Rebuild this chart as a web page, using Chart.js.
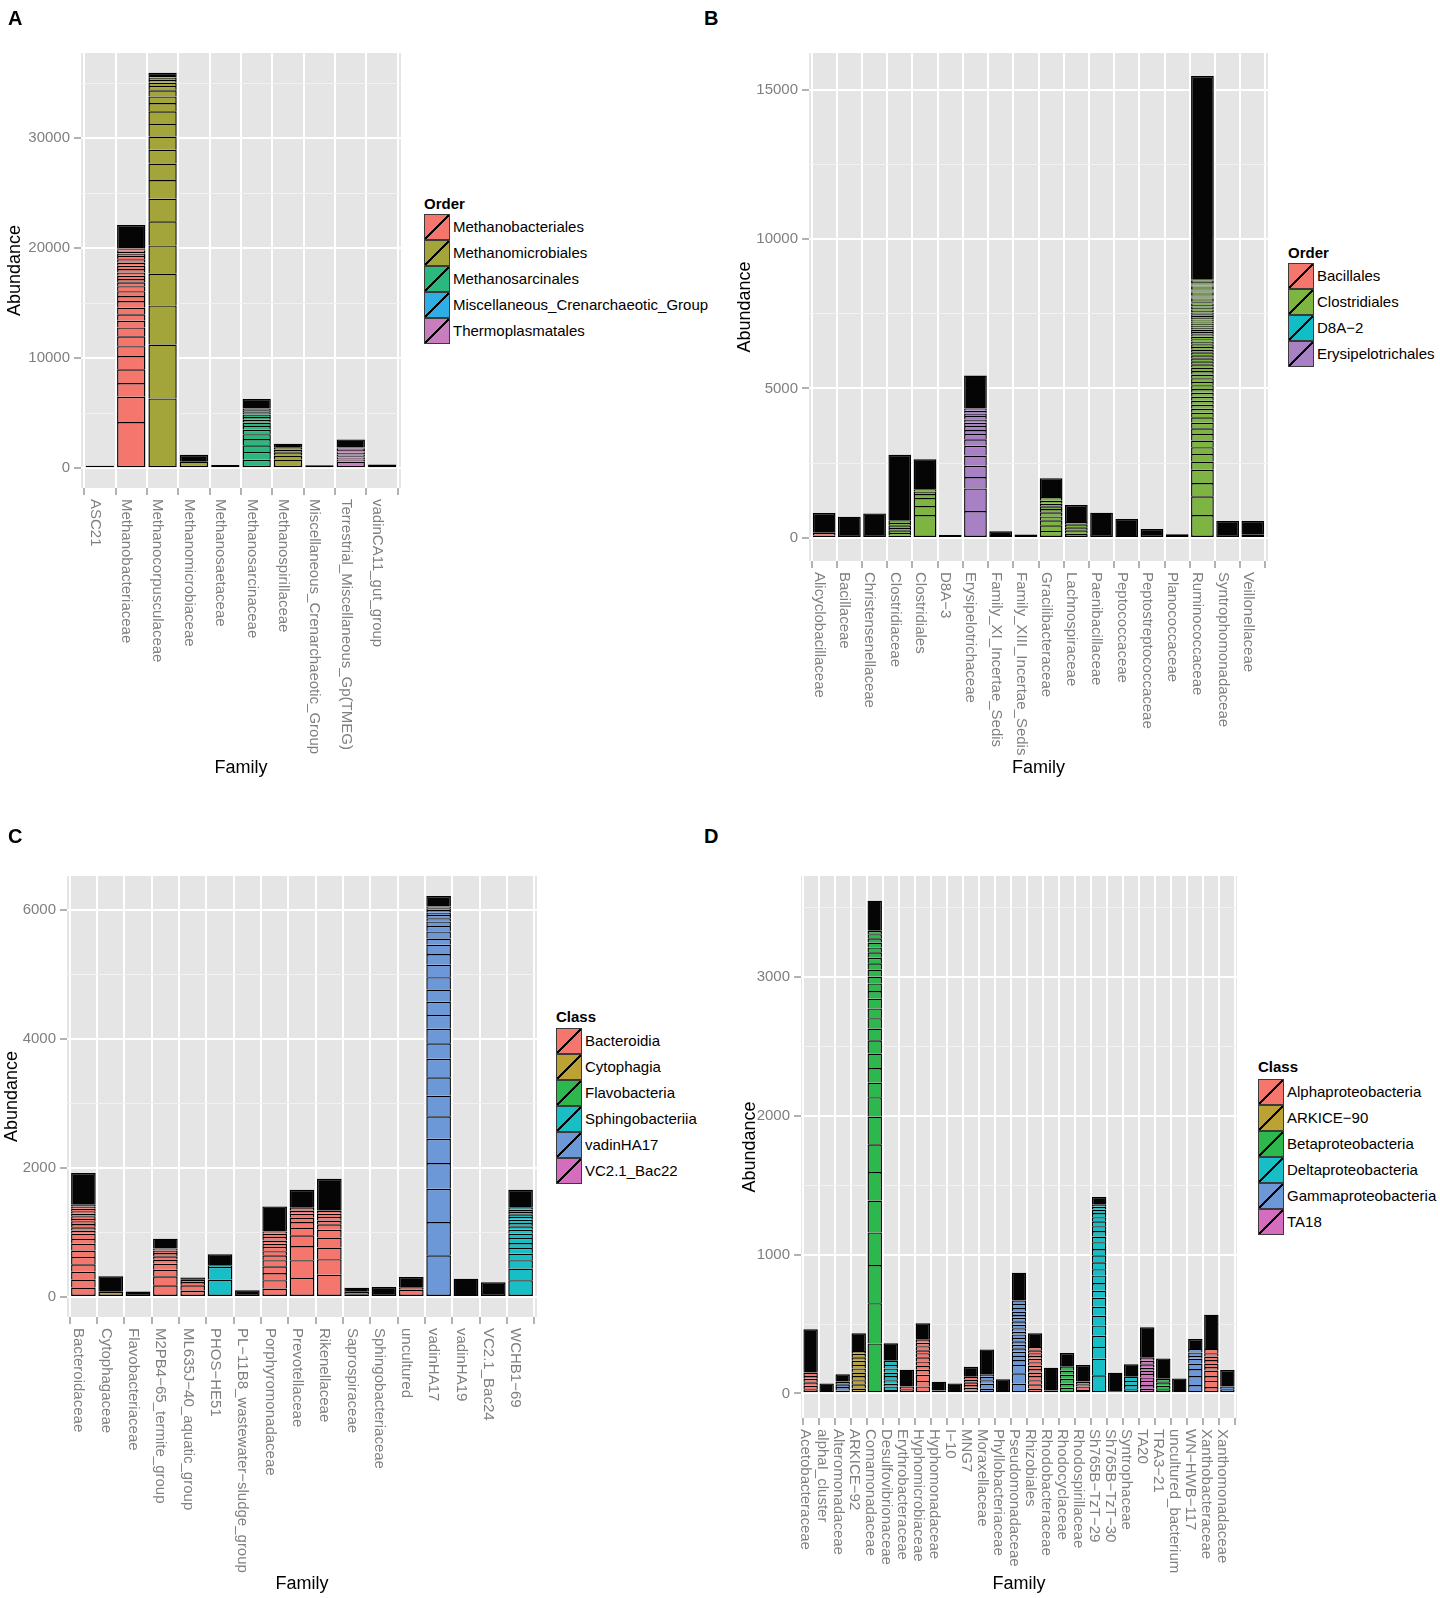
<!DOCTYPE html>
<html lang="en">

<head>
    <meta charset="UTF-8" />
    <title>Abundance by family</title>
    <style>
        * {
            margin: 0;
            padding: 0;
        }

        body {
            width: 1440px;
            height: 1598px;
            position: relative;
            overflow: hidden;
            background: #ffffff;
            font-family: "Liberation Sans", Arial, Helvetica, sans-serif;
        }

        canvas,
        .tag,
        .legTitle,
        .legKey,
        .legLabel {
            position: absolute;
        }

        .tag {
            font-size: 20px;
            font-weight: bold;
            line-height: 22px;
        }

        .legTitle {
            font-size: 15px;
            font-weight: bold;
            line-height: 18px;
        }

        .legKey {
            width: 26px;
            height: 26px;
            box-sizing: border-box;
            border: 1px solid #3a3a3a;
        }

        .legLabel {
            font-size: 15px;
            line-height: 18px;
            white-space: nowrap;
        }
    </style>
</head>

<body>
    <script src="https://cdn.jsdelivr.net/npm/chart.js@4.4.1/dist/chart.umd.min.js"></script>
    <script>
        const FONT = '"Liberation Sans", Arial, Helvetica, sans-serif';

        // ---- panel A ----
        const familiesA = ["ASC21", "Methanobacteriaceae", "Methanocorpusculaceae", "Methanomicrobiaceae",
            "Methanosaetaceae", "Methanosarcinaceae", "Methanospirillaceae", "Miscellaneous_Crenarchaeotic_Group",
            "Terrestrial_Miscellaneous_Gp(TMEG)", "vadinCA11_gut_group"];
        const ordersA = ["Methanobacteriales", "Methanomicrobiales", "Methanosarcinales",
            "Miscellaneous_Crenarchaeotic_Group", "Thermoplasmatales"];
        const colorsA = ["#F4766C", "#A3A53A", "#2AB87E", "#2FAEE6", "#C77DBE"];
        const groupsA = [-1, 0, 1, 1, -1, 2, 1, -1, 4, -1];
        const totalsA = [220, 22100, 35950, 1220, 300, 6300, 2230, 260, 2620, 330];
        const cutsA = [
            [],
            [4200, 6500, 7750, 9000, 10200, 11100, 12000, 12800, 13400, 14000, 14600, 15200, 15650, 16100, 16550,
                16900, 17200, 17500, 17800, 18100, 18400, 18700, 19000, 19300, 19500, 19650, 19780, 19900, 20000],
            [6350, 11250, 14800, 17700, 20250, 22450, 24500, 26200, 27700, 28950, 30150, 31300, 32450, 33200, 33800,
                34350, 34750, 35050, 35300, 35500, 35650],
            [600],
            [],
            [760, 1480, 2080, 2650, 3100, 3500, 3850, 4150, 4400, 4650, 4880, 5080, 5260, 5420],
            [790, 1150, 1450, 1700, 1900],
            [],
            [600, 800, 950, 1100, 1250, 1400, 1530, 1650, 1770, 1880],
            []
        ];
        const majorsA = [0, 10000, 20000, 30000];
        const minorsA = [5000, 15000, 25000, 35000];

        // ---- panel B ----
        const familiesB = ["Alicyclobacillaceae", "Bacillaceae", "Christensenellaceae", "Clostridiaceae",
            "Clostridiales", "D8A\u22123", "Erysipelotrichaceae", "Family_XI_Incertae_Sedis",
            "Family_XIII_Incertae_Sedis", "Gracilibacteraceae", "Lachnospiraceae", "Paenibacillaceae",
            "Peptococcaceae", "Peptostreptococcaceae", "Planococcaceae", "Ruminococcaceae",
            "Syntrophomonadaceae", "Veillonellaceae"];
        const ordersB = ["Bacillales", "Clostridiales", "D8A\u22122", "Erysipelotrichales"];
        const colorsB = ["#F4766C", "#7DB442", "#13BDC5", "#A880C4"];
        const groupsB = [0, -1, -1, 1, 1, -1, 3, 1, -1, 1, 1, -1, 1, -1, -1, 1, -1, 1];
        const totalsB = [830, 710, 820, 2780, 2630, 100, 5430, 220, 110, 2000, 1100, 845, 635, 300, 120, 15450, 567, 567];
        const cutsB = [
            [80, 170],
            [],
            [],
            [80, 165, 255, 335, 420, 500, 590],
            [765, 1065, 1335, 1465, 1555, 1630],
            [],
            [900, 1655, 2035, 2410, 2755, 3080, 3300, 3480, 3610, 3745, 3855, 3965, 4080, 4165, 4255, 4330],
            [100],
            [],
            [235, 420, 590, 720, 855, 965, 1055, 1145, 1245, 1365],
            [145, 255, 355, 455, 535],
            [],
            [60],
            [],
            [],
            [767, 1390, 1835, 2280, 2555, 2810, 3035, 3255, 3480, 3665, 3855, 4035, 4190, 4320, 4455, 4590, 4720,
                4855, 4980, 5110, 5220, 5345, 5465, 5580, 5700, 5810, 5910, 6010, 6110, 6210, 6300, 6390, 6480, 6570,
                6650, 6730, 6810, 6890, 6960, 7030, 7100, 7170, 7240, 7300, 7360, 7420, 7480, 7540, 7590, 7640, 7690,
                7740, 7790, 7840, 7880, 7920, 7960, 8000, 8040, 8080, 8120, 8160, 8200, 8240, 8280, 8320, 8360, 8400,
                8440, 8480, 8520, 8560, 8600, 8640],
            [],
            [120]
        ];
        const majorsB = [0, 5000, 10000, 15000];
        const minorsB = [2500, 7500, 12500];

        // ---- panel C ----
        const familiesC = ["Bacteroidaceae", "Cytophagaceae", "Flavobacteriaceae", "M2PB4\u221265_termite_group",
            "ML635J\u221240_aquatic_group", "PHOS\u2212HE51", "PL\u221211B8_wastewater\u2212sludge_group",
            "Porphyromonadaceae", "Prevotellaceae", "Rikenellaceae", "Saprospiraceae", "Sphingobacteriaceae",
            "uncultured", "vadinHA17", "vadinHA19", "VC2.1_Bac24", "WCHB1\u221269"];
        const classesC = ["Bacteroidia", "Cytophagia", "Flavobacteria", "Sphingobacteriia", "vadinHA17", "VC2.1_Bac22"];
        const colorsC = ["#F4766C", "#BBA232", "#2CB84D", "#17BEC6", "#6D98D8", "#D46DBE"];
        const groupsC = [0, 1, -1, 0, 0, 3, -1, 0, 0, 0, 3, -1, 0, 4, 4, -1, 3];
        const totalsC = [1920, 320, 83, 903, 300, 660, 103, 1403, 1661, 1832, 144, 155, 310, 6213, 284, 227, 1661];
        const cutsC = [
            [145, 270, 390, 505, 620, 720, 825, 900, 980, 1030, 1080, 1130, 1175, 1210, 1250, 1290, 1330, 1365, 1400, 1430],
            [80],
            [],
            [180, 320, 420, 515, 580, 630, 680, 720, 750],
            [100, 180, 230, 265],
            [270, 465, 490],
            [],
            [130, 260, 370, 475, 570, 645, 710, 775, 825, 875, 930, 980, 1015],
            [295, 570, 790, 955, 1070, 1160, 1230, 1290, 1340, 1390],
            [345, 585, 765, 920, 1040, 1125, 1185, 1240, 1290, 1340],
            [40, 80],
            [],
            [115, 150],
            [645, 1160, 1675, 2075, 2450, 2800, 3120, 3405, 3690, 3930, 4155, 4370, 4575, 4765, 4955, 5150, 5315,
                5460, 5555, 5665, 5750, 5820, 5870, 5920, 5955, 5995, 6025, 6050],
            [30],
            [],
            [260, 440, 570, 670, 760, 835, 915, 980, 1040, 1095, 1145, 1195, 1240, 1280, 1315, 1350, 1390]
        ];
        const majorsC = [0, 2000, 4000, 6000];
        const minorsC = [1000, 3000, 5000];

        // ---- panel D ----
        const familiesD = ["Acetobacteraceae", "alphaI_cluster", "Alteromonadaceae", "ARKICE\u221292",
            "Comamonadaceae", "Desulfovibrionaceae", "Erythrobacteraceae", "Hyphomicrobiaceae", "Hyphomonadaceae",
            "I\u221210", "MNG7", "Moraxellaceae", "Phyllobacteriaceae", "Pseudomonadaceae", "Rhizobiales",
            "Rhodobacteraceae", "Rhodocyclaceae", "Rhodospirillaceae", "Sh765B\u2212TzT\u221229",
            "Sh765B\u2212TzT\u221230", "Syntrophaceae", "TA20", "TRA3\u221221", "uncultured_bacterium",
            "WN\u2212HWB\u2212117", "Xanthobacteraceae", "Xanthomonadaceae"];
        const classesD = ["Alphaproteobacteria", "ARKICE\u221290", "Betaproteobacteria", "Deltaproteobacteria",
            "Gammaproteobacteria", "TA18"];
        const colorsD = ["#F4766C", "#BBA232", "#2CB84D", "#17BEC6", "#6D98D8", "#D46DBE"];
        const groupsD = [0, -1, 4, 1, 2, 3, 0, 0, 0, -1, 0, 4, -1, 4, 0, 0, 2, 0, 3, 3, 3, 5, 2, 3, 4, 0, 4];
        const totalsD = [462, 72, 137, 433, 3552, 361, 171, 505, 84, 72, 192, 317, 101, 870, 433, 185, 291, 204,
            1416, 149, 209, 476, 252, 108, 392, 567, 168];
        const cutsD = [
            [30, 55, 80, 105, 125, 150],
            [],
            [20, 45, 65, 85],
            [35, 65, 95, 125, 150, 180, 205, 235, 260, 285, 305],
            [360, 650, 925, 1160, 1390, 1595, 1795, 1995, 2135, 2240, 2345, 2450, 2545, 2630, 2705, 2775, 2845, 2900,
                2955, 3005, 3055, 3100, 3140, 3180, 3215, 3250, 3280, 3310, 3335],
            [25, 50, 70, 95, 125, 150, 180, 205, 235],
            [30, 50],
            [50, 90, 135, 170, 200, 230, 260, 290, 310, 340, 365, 390],
            [20],
            [],
            [20, 40, 60, 80, 100, 120],
            [35, 70, 95, 120, 135],
            [],
            [70, 145, 205, 240, 270, 300, 325, 350, 375, 400, 425, 445, 470, 495, 520, 545, 565, 590, 615, 645, 670],
            [35, 65, 95, 125, 150, 175, 200, 225, 250, 270, 290, 310, 335],
            [20],
            [40, 70, 105, 135, 165, 195],
            [25, 50, 65, 85],
            [130, 250, 335, 415, 490, 560, 625, 690, 740, 795, 850, 895, 945, 995, 1040, 1090, 1130, 1170, 1205,
                1240, 1270, 1300, 1325, 1345, 1360],
            [15],
            [30, 60, 90, 120],
            [35, 60, 90, 115, 140, 165, 185, 210, 235, 260],
            [30, 55, 80, 105],
            [10],
            [60, 125, 175, 215, 250, 270, 295, 320],
            [45, 90, 125, 165, 190, 215, 240, 265, 290, 320],
            [30, 50]
        ];
        const majorsD = [0, 1000, 2000, 3000];
        const minorsD = [500, 1500, 2500, 3500];

        // gray panel background like ggplot
        const panelBg = {
            id: "panelBg",
            beforeDraw(chart) {
                const { ctx, chartArea: a } = chart;
                ctx.save();
                ctx.fillStyle = "#e5e5e5";
                ctx.fillRect(a.left, a.top, a.right - a.left, a.bottom - a.top);
                ctx.restore();
            }
        };

        // x labels read top to bottom, so they are drawn here at the scale's tick pixels
        const xLabels = {
            id: "xLabels",
            afterDraw(chart, args, opts) {
                const { ctx, chartArea } = chart;
                const xs = chart.scales.x;
                ctx.save();
                ctx.fillStyle = "#7f7f7f";
                ctx.font = "15px " + FONT;
                ctx.textAlign = "left";
                ctx.textBaseline = "middle";
                opts.labels.forEach((lab, i) => {
                    ctx.save();
                    ctx.translate(xs.getPixelForValue(i + 1) - 5, chartArea.bottom + 11);
                    ctx.rotate(Math.PI / 2);
                    ctx.fillText(lab, 0, 0);
                    ctx.restore();
                });
                ctx.restore();
            }
        };

        function addDiv(cls, x, y, text, style) {
            const d = document.createElement("div");
            d.className = cls;
            d.style.left = x + "px";
            d.style.top = y + "px";
            if (text) d.textContent = text;
            if (style) Object.assign(d.style, style);
            document.body.appendChild(d);
            return d;
        }

        function makePanel(p) {
            const [bx, by, bw, bh] = p.box;
            const [pl, pt, pr, pb] = p.plot;
            const cv = document.createElement("canvas");
            cv.width = bw;
            cv.height = bh;
            cv.style.left = bx + "px";
            cv.style.top = by + "px";
            document.body.appendChild(cv);

            const maxVal = Math.max(...p.totals);
            const nSeg = Math.max(...p.cuts.map(c => c.length));
            const fill = ctx => ctx.raw ? p.colors[p.groups[ctx.raw.x - 1]] : "#000";
            const datasets = [];
            for (let k = 0; k < nSeg; k++) {
                const pts = [];
                p.cuts.forEach((c, i) => {
                    if (k < c.length) pts.push({ x: i + 1, y: [k ? c[k - 1] : 0, c[k]] });
                });
                datasets.push({ data: pts, backgroundColor: fill, borderSkipped: k ? "start" : false });
            }
            // the many tiny OTUs on top merge into solid black
            datasets.push({
                data: p.totals.map((t, i) => {
                    const c = p.cuts[i];
                    return { x: i + 1, y: [c.length ? c[c.length - 1] : 0, t] };
                }),
                backgroundColor: "#050505",
                borderSkipped: ctx => (ctx.raw && p.cuts[ctx.raw.x - 1].length) ? "start" : false
            });

            const allTicks = p.majors.concat(p.minors).sort((a, b) => a - b);
            const isMajor = c => c.tick && p.majors.includes(c.tick.value);

            new Chart(cv.getContext("2d"), {
                type: "bar",
                data: { datasets: datasets },
                plugins: [panelBg, xLabels],
                options: {
                    responsive: false,
                    animation: false,
                    events: [],
                    layout: { padding: { top: pt - by, right: bx + bw - pr, left: 0, bottom: 0 } },
                    datasets: {
                        bar: {
                            grouped: false,
                            barPercentage: 1,
                            categoryPercentage: 0.9,
                            borderColor: "#000000",
                            borderWidth: 1.4
                        }
                    },
                    plugins: {
                        legend: { display: false },
                        tooltip: { enabled: false },
                        xLabels: { labels: p.families }
                    },
                    scales: {
                        x: {
                            type: "linear",
                            min: 0.4,
                            max: p.families.length + 0.6,
                            offset: false,
                            afterBuildTicks: s => { s.ticks = p.families.map((f, i) => ({ value: i + 1 })); },
                            ticks: { display: false },
                            grid: { color: "#ffffff", lineWidth: 2, tickColor: "#7f7f7f", tickLength: 7, tickWidth: 1.2 },
                            border: { display: false },
                            title: {
                                display: true,
                                text: "Family",
                                color: "#000000",
                                font: { family: FONT, size: 18 },
                                padding: { top: 0, bottom: by + bh - 10.8 - p.xTitleY }
                            },
                            afterFit: s => { s.height = by + bh - pb; }
                        },
                        y: {
                            min: -0.05 * maxVal,
                            max: 1.05 * maxVal,
                            afterBuildTicks: s => { s.ticks = allTicks.map(v => ({ value: v })); },
                            ticks: {
                                color: "#7f7f7f",
                                font: { family: FONT, size: 15 },
                                padding: 4,
                                callback: v => p.majors.includes(v) ? String(v) : ""
                            },
                            grid: {
                                color: c => isMajor(c) ? "#ffffff" : "#f2f2f2",
                                lineWidth: c => isMajor(c) ? 2 : 1,
                                tickColor: c => isMajor(c) ? "#7f7f7f" : "rgba(0,0,0,0)",
                                tickLength: 7,
                                tickWidth: 1.2
                            },
                            border: { display: false },
                            title: {
                                display: true,
                                text: "Abundance",
                                color: "#000000",
                                font: { family: FONT, size: 18 },
                                padding: { top: p.yTitleX - bx - 10.8, bottom: 0 }
                            },
                            afterFit: s => { s.width = pl - bx; }
                        }
                    }
                }
            });

            // panel letter and legend
            addDiv("tag", p.tag[0] - 7, p.tag[1] - 11, p.tagText);
            const [lx, ly, kt] = p.legend;
            addDiv("legTitle", lx, ly - 9, p.legendTitle);
            p.legendNames.forEach((name, i) => {
                const c = p.colors[i];
                addDiv("legKey", lx, kt + i * 26, "", {
                    background: "linear-gradient(to bottom right, " + c + " calc(50% - 1px), #000 calc(50% - 1px), #000 calc(50% + 1px), " + c + " calc(50% + 1px))"
                });
                addDiv("legLabel", lx + 29, kt + i * 26 + 4, name);
            });
        }

        makePanel({
            tagText: "A", tag: [15, 18], box: [0, 0, 410, 790], plot: [81, 53, 401, 488], yTitleX: 15, xTitleY: 768,
            families: familiesA, colors: colorsA, groups: groupsA, totals: totalsA, cuts: cutsA,
            majors: majorsA, minors: minorsA, legendTitle: "Order", legendNames: ordersA, legend: [424, 204, 214]
        });
        makePanel({
            tagText: "B", tag: [711, 18], box: [720, 0, 560, 790], plot: [809, 53, 1268, 561], yTitleX: 745, xTitleY: 768,
            families: familiesB, colors: colorsB, groups: groupsB, totals: totalsB, cuts: cutsB,
            majors: majorsB, minors: minorsB, legendTitle: "Order", legendNames: ordersB, legend: [1288, 253, 263]
        });
        makePanel({
            tagText: "C", tag: [15, 836], box: [0, 800, 545, 798], plot: [67, 876, 537, 1317], yTitleX: 12, xTitleY: 1584,
            families: familiesC, colors: colorsC, groups: groupsC, totals: totalsC, cuts: cutsC,
            majors: majorsC, minors: minorsC, legendTitle: "Class", legendNames: classesC, legend: [556, 1017, 1028]
        });
        makePanel({
            tagText: "D", tag: [711, 836], box: [720, 800, 525, 798], plot: [801, 876, 1237, 1418], yTitleX: 750, xTitleY: 1584,
            families: familiesD, colors: colorsD, groups: groupsD, totals: totalsD, cuts: cutsD,
            majors: majorsD, minors: minorsD, legendTitle: "Class", legendNames: classesD, legend: [1258, 1067, 1079]
        });
    </script>
</body>

</html>
